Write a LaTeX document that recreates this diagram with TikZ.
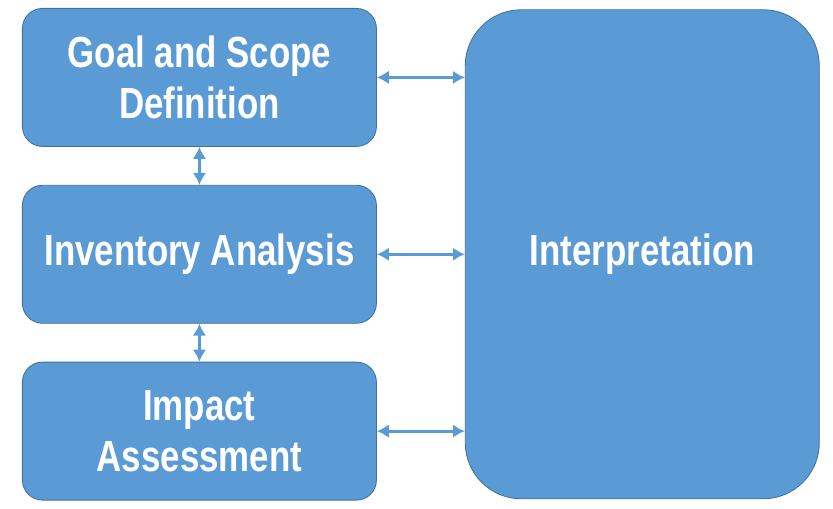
\documentclass[tikz,border=0pt]{standalone}
\usepackage{fontspec}
\setmainfont{Liberation Sans}[FakeStretch=0.8]
\usetikzlibrary{positioning,arrows.meta}
\definecolor{boxblue}{HTML}{5B9BD5}
\definecolor{edgeblue}{HTML}{41719C}

\begin{document}
\begin{tikzpicture}[
    node distance=0.95cm and 2.2cm,
    phase/.style={rectangle, draw=edgeblue, fill=boxblue, line width=0.6pt, rounded corners=0.5cm, align=center, text=white, minimum width=8.85cm, minimum height=3.45cm, font=\fontsize{31}{36}\selectfont\bfseries},
    link/.style={{Latex[length=3mm,width=3.4mm]}-{Latex[length=3mm,width=3.4mm]}, line width=2.2pt, boxblue}
]
\node[phase] (goal) {Goal and Scope\\Definition};
\node[phase, below=of goal] (inventory) {Inventory Analysis};
\node[phase, below=of inventory] (impact) {Impact\\Assessment};
\node[phase, right=of inventory, minimum height=12.225cm, rounded corners=1.4cm] (interp) {Interpretation};
\useasboundingbox ([shift={(-0.55cm,0.2cm)}]goal.north west) rectangle ++(20.825,-12.7);
\draw[link] (goal) -- (inventory);
\draw[link] (inventory) -- (impact);
\draw[link] (goal.east) -- (goal.east -| interp.west);
\draw[link] (inventory) -- (interp);
\draw[link] (impact.east) -- (impact.east -| interp.west);
\end{tikzpicture}
\end{document}
